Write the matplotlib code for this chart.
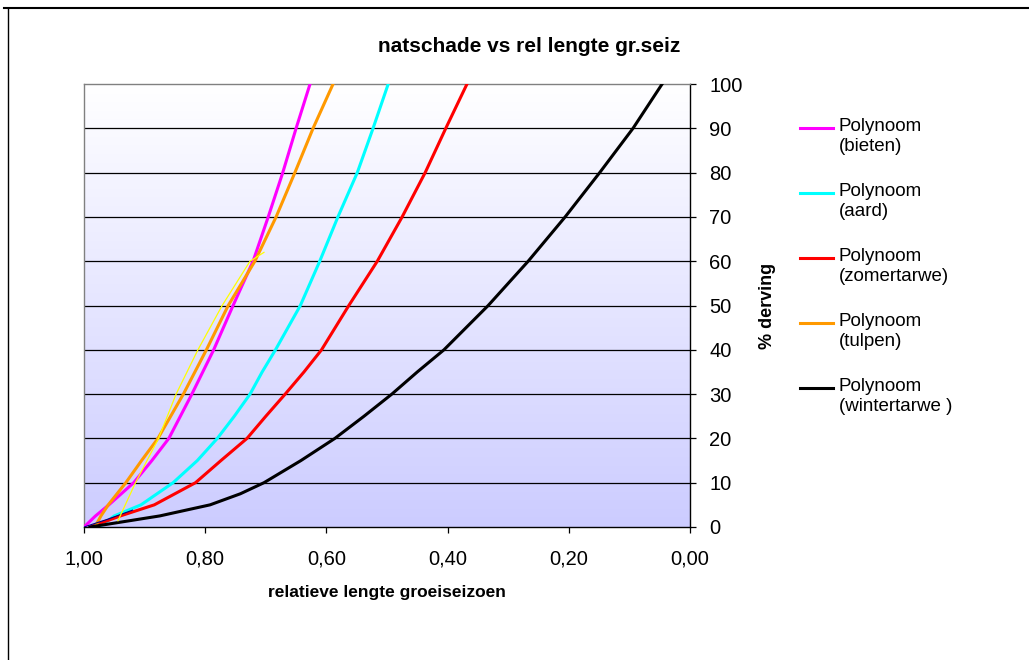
import numpy as np
import matplotlib
matplotlib.use("Agg")
import matplotlib.pyplot as plt
from matplotlib.colors import LinearSegmentedColormap
from matplotlib.lines import Line2D
from matplotlib.ticker import FuncFormatter

plt.rcParams['font.family'] = ['Liberation Sans', 'DejaVu Sans']

# values (x = relatieve lengte, y = % derving)
bieten_x = [1.000, 0.981, 0.959, 0.918, 0.888, 0.860, 0.822, 0.786, 0.754, 0.721, 0.696, 0.672, 0.650, 0.627]
bieten_y = [0, 2.5, 5, 10, 15, 20, 30, 40, 50, 60, 70, 80, 90, 100]

aard_x = [0.975, 0.950, 0.906, 0.853, 0.813, 0.780, 0.752, 0.726, 0.706, 0.684,
          0.643, 0.611, 0.581, 0.549, 0.523, 0.498]
aard_y = [0, 2.5, 5, 10, 15, 20, 25, 30, 35, 40, 50, 60, 70, 80, 90, 100]

zomer_x = [0.990, 0.940, 0.884, 0.816, 0.774, 0.731, 0.700, 0.668, 0.637, 0.608,
           0.563, 0.516, 0.475, 0.437, 0.403, 0.368]
zomer_y = [0, 2.5, 5, 10, 15, 20, 25, 30, 35, 40, 50, 60, 70, 80, 90, 100]

tulpen_x = [0.982, 0.972, 0.960, 0.931, 0.905, 0.878, 0.836, 0.798, 0.762, 0.718, 0.683, 0.652, 0.622, 0.589]
tulpen_y = [0, 2.5, 5, 10, 15, 20, 30, 40, 50, 60, 70, 80, 90, 100]

winter_x = [0.990, 0.875, 0.792, 0.742, 0.703, 0.642, 0.586, 0.538, 0.492, 0.450, 0.406,
            0.333, 0.267, 0.206, 0.149, 0.094, 0.046]
winter_y = [0, 2.5, 5, 7.5, 10, 15, 20, 25, 30, 35, 40, 50, 60, 70, 80, 90, 100]

# thin unnamed series
geel_x = [0.944, 0.915, 0.877, 0.848, 0.812, 0.772, 0.726, 0.703]
geel_y = [1.4, 10, 20, 30, 40, 50, 60, 62]
navy_x = [1.000, 0.960, 0.920]
navy_y = [0, 1.8, 3.8]

labels = ["Polynoom\n(bieten)", "Polynoom\n(aard)", "Polynoom\n(zomertarwe)",
          "Polynoom\n(tulpen)", "Polynoom\n(wintertarwe )"]
colors = ["#FF00FF", "#00FFFF", "#FF0000", "#FF9900", "#000000"]
xticks = [1.0, 0.8, 0.6, 0.4, 0.2, 0.0]
yticks = list(range(0, 101, 10))

W, H = 1029, 660
fig = plt.figure(figsize=(W / 100, H / 100), dpi=100)
ax = fig.add_axes([84 / W, 1 - 527 / H, (690 - 84) / W, (527 - 84) / H])

# plot area: white at top fading to lavender at the bottom
cmap = LinearSegmentedColormap.from_list("bg", ["#CCCCFF", "#FFFFFF"])
ax.imshow(np.linspace(0, 1, 256).reshape(-1, 1), cmap=cmap, aspect="auto",
          extent=[1, 0, 0, 100], origin="lower", zorder=0)

for y in yticks[1:-1]:
    ax.axhline(y, color="black", lw=0.9, zorder=1)

series = [(bieten_x, bieten_y), (aard_x, aard_y), (zomer_x, zomer_y),
          (tulpen_x, tulpen_y), (winter_x, winter_y)]
for (xs, ys), c in zip(series, colors):
    ax.plot(xs, ys, color=c, lw=2.2, zorder=3, solid_joinstyle="round")
ax.plot(navy_x, navy_y, color="#000080", lw=0.8, zorder=4)
ax.plot(geel_x, geel_y, color="#FFFF00", lw=0.9, zorder=4)

ax.set_xlim(1, 0)
ax.set_ylim(0, 100)
ax.set_xticks(xticks)
ax.set_yticks(yticks)
ax.xaxis.set_major_formatter(FuncFormatter(lambda v, p: f"{v:.2f}".replace(".", ",")))
ax.yaxis.tick_right()
ax.yaxis.set_label_position("right")
ax.tick_params(axis="both", direction="out", length=4, width=0.9, labelsize=14.5, colors="black")
ax.tick_params(axis="x", pad=12)
ax.tick_params(axis="y", pad=10)
for s in ["left", "top"]:
    ax.spines[s].set_color("#808080")
for s in ["right", "bottom"]:
    ax.spines[s].set_color("black")
for s in ax.spines.values():
    s.set_linewidth(1.0)

ax.set_xlabel("relatieve lengte groeiseizoen", fontsize=12.5, fontweight="bold", labelpad=12)
ax.set_ylabel("% derving", fontsize=13, fontweight="bold", labelpad=12)

fig.text(529 / W, 1 - 46 / H, "natschade vs rel lengte gr.seiz", fontsize=15,
         fontweight="bold", ha="center", va="center")

# legend: handle next to first line of each label
for i, (lab, c) in enumerate(zip(labels, colors)):
    yl = 128 + 65 * i
    fig.add_artist(Line2D([800 / W, 833 / W], [1 - yl / H, 1 - yl / H], color=c, lw=2.2))
    fig.text(839 / W, 1 - (yl - 10) / H, lab, fontsize=13.5, ha="left", va="top",
             linespacing=1.2)

# chart border (cropped at right/bottom)
fig.add_artist(Line2D([4 / W, 1], [1 - 8 / H, 1 - 8 / H], color="black", lw=1.5))
fig.add_artist(Line2D([8 / W, 8 / W], [1 - 8 / H, 0], color="black", lw=1.0))

fig.savefig("out.png", dpi=100)
